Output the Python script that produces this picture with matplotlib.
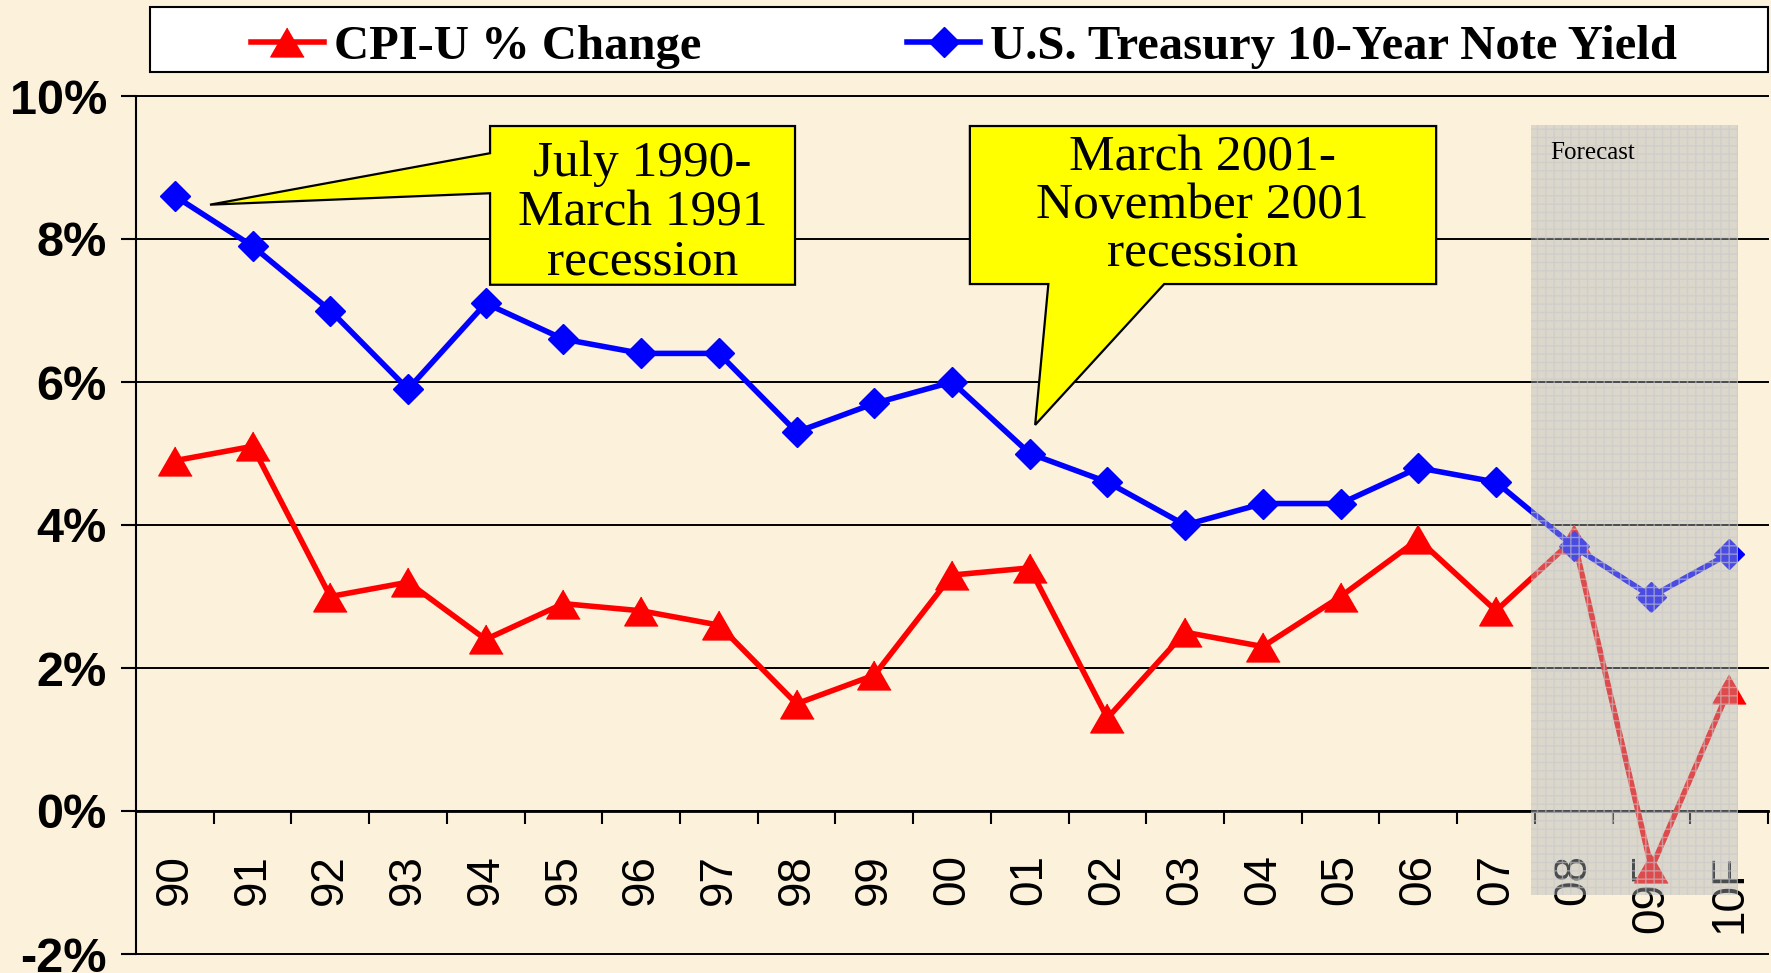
import numpy as np
import matplotlib
matplotlib.use("Agg")
import matplotlib.pyplot as plt
from matplotlib.patches import Polygon, Rectangle

# annual figures, last two years are forecasts
years = ["90", "91", "92", "93", "94", "95", "96", "97", "98", "99", "00",
         "01", "02", "03", "04", "05", "06", "07", "08", "09F", "10F"]
cpi_change = [4.9, 5.1, 3.0, 3.2, 2.4, 2.9, 2.8, 2.6, 1.5, 1.9, 3.3,
              3.4, 1.3, 2.5, 2.3, 3.0, 3.8, 2.8, 3.8, -0.8, 1.7]
treasury_10y = [8.6, 7.9, 7.0, 5.9, 7.1, 6.6, 6.4, 6.4, 5.3, 5.7, 6.0,
                5.0, 4.6, 4.0, 4.3, 4.3, 4.8, 4.6, 3.7, 3.0, 3.6]
y_ticks = [-2, 0, 2, 4, 6, 8, 10]

BG = "#fcf1da"
W, H = 1771, 973
SERIF = "Liberation Serif"
SANS = "Liberation Sans"

fig = plt.figure(figsize=(W / 100, H / 100), dpi=100, facecolor=BG)
ax = fig.add_axes([136 / W, 1 - 954 / H, (1768 - 136) / W, (954 - 96) / H])
ax.set_facecolor("none")

x = np.arange(len(years))
tri = [(0, 0.866), (-1, -0.866), (1, -0.866)]

cpi_line, = ax.plot(x, cpi_change, color="#ff0000", lw=4, marker=tri, ms=24,
                    mew=1, zorder=4, label="CPI-U % Change")
ty_line, = ax.plot(x, treasury_10y, color="#0000ff", lw=4, marker="D", ms=15,
                   mew=1, zorder=4.5, label="U.S. Treasury 10-Year Note Yield")

ax.set_xlim(-0.5, len(years) - 0.5)
ax.set_ylim(-2, 10)

# axes furniture
for s in ["top", "right"]:
    ax.spines[s].set_visible(False)
ax.spines["left"].set_linewidth(1.5)
ax.spines["bottom"].set_position(("data", 0))
ax.spines["bottom"].set_linewidth(2)

ax.set_yticks(y_ticks)
ax.set_yticklabels([f"{v}%" for v in y_ticks], fontsize=35, fontweight="bold",
                   family=SANS)
ax.tick_params(axis="y", direction="out", length=11, width=1.5, pad=10)
ax.yaxis.grid(True, color="black", lw=1.4)
for gl in ax.get_ygridlines():
    gl.set_clip_on(False)
ax.set_axisbelow(True)

ax.set_xticks(x)
ax.set_xticklabels(years, rotation=90, fontsize=33, family=SANS)
ax.set_xticks(np.arange(0.5, len(years), 1), minor=True)
ax.tick_params(axis="x", which="major", length=0, pad=31)
ax.tick_params(axis="x", which="minor", direction="out", length=9, width=1.5)

# forecast band
ax.add_patch(Rectangle((17.45, -1.17), 2.67, 10.76, facecolor="#b1b4b7",
                       alpha=0.42, lw=0, zorder=6))
ax.add_patch(Rectangle((17.45, -1.17), 2.67, 10.76, facecolor="none",
                       edgecolor="#c8c8cc", hatch="++", alpha=0.6, lw=0, zorder=6.1))
ax.text(17.70, 9.20, "Forecast", fontsize=18, family=SERIF, va="center",
        zorder=7)

# recession callouts
c1 = [(4.056, 9.58), (7.98, 9.58), (7.98, 7.36), (4.056, 7.36),
      (4.056, 8.64), (0.452, 8.48), (4.056, 9.20)]
c2 = [(10.23, 9.58), (16.23, 9.58), (16.23, 7.37), (12.73, 7.37),
      (11.07, 5.40), (11.24, 7.37), (10.23, 7.37)]
for pts in (c1, c2):
    ax.add_patch(Polygon(pts, closed=True, facecolor="#ffff00",
                         edgecolor="black", lw=1.6, zorder=3))
ax.text(6.02, 8.36, "July 1990-\nMarch 1991\nrecession", ha="center",
        va="center", fontsize=37, family=SERIF, linespacing=1.08, zorder=3.5)
ax.text(13.22, 8.46, "March 2001-\nNovember 2001\nrecession", ha="center",
        va="center", fontsize=37, family=SERIF, linespacing=1.03, zorder=3.5)

# legend box across the top
fig.patches.append(Rectangle((150 / W, 1 - 72 / H), 1618 / W, 65 / H,
                             transform=fig.transFigure, facecolor="white",
                             edgecolor="black", lw=1.5))
fig.legend(handles=[cpi_line, ty_line], loc="center",
           bbox_to_anchor=(251 / W, 1 - 77 / H, (1677 - 251) / W, 60 / H),
           mode="expand", ncol=2, frameon=False, borderpad=0, borderaxespad=0,
           handlelength=1.5, handletextpad=0.2,
           prop={"family": SERIF, "weight": "bold", "size": 35})

fig.savefig("out.png", dpi=100, facecolor=BG)
